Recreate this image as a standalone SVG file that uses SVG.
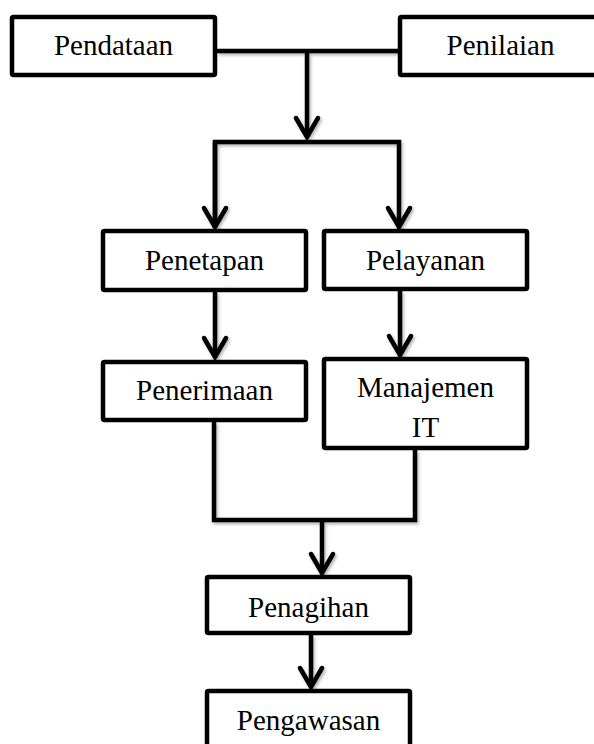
<svg xmlns="http://www.w3.org/2000/svg" width="594" height="744" viewBox="0 0 594 744">
  <defs>
    <style>
      .box { fill: #ffffff; stroke: #000000; stroke-width: 4.5; }
      .lbl { font-family: "Liberation Serif", "Times New Roman", serif; font-size: 29px; fill: #000000; text-anchor: middle; }
      .wire { fill: none; stroke: #000000; stroke-width: 4.5; stroke-linejoin: miter; }
    </style>
    <marker id="chev" markerUnits="userSpaceOnUse" markerWidth="30" markerHeight="30" refX="0" refY="0" orient="auto" overflow="visible">
      <path d="M -19,-11 L 0,0 L -19,11" fill="none" stroke="#000000" stroke-width="4.5" stroke-linejoin="miter" stroke-linecap="round"/>
    </marker>
    <filter id="soft" x="-10%" y="-10%" width="130%" height="130%">
      <feDropShadow dx="1.5" dy="2" stdDeviation="1.5" flood-color="#000000" flood-opacity="0.3"/>
    </filter>
  </defs>
  <rect width="594" height="744" fill="#ffffff"/>

  <!-- connectors -->
  <g id="connectors" filter="url(#soft)">
    <!-- join of the two sources -->
    <path class="wire" d="M 217,51 L 398,51"/>
    <path class="wire" d="M 307,51 L 307,137" marker-end="url(#chev)"/>
    <!-- split into two branches -->
    <path class="wire" d="M 215,228 L 215,142 L 399,142 L 399,227" marker-end="url(#chev)"/>
    <path class="wire" d="M 215,142 L 215,227" marker-end="url(#chev)"/>
    <!-- branch steps -->
    <path class="wire" d="M 215,292 L 215,357" marker-end="url(#chev)"/>
    <path class="wire" d="M 400,291 L 400,355" marker-end="url(#chev)"/>
    <!-- merge of the branches -->
    <path class="wire" d="M 214,422 L 214,520 L 415,520 L 415,450"/>
    <path class="wire" d="M 322,520 L 322,573" marker-end="url(#chev)"/>
    <path class="wire" d="M 311,635 L 311,687" marker-end="url(#chev)"/>
  </g>

  <g id="pendataan">
    <rect class="box" x="12" y="17" width="203" height="58" rx="1.5"/>
    <text class="lbl" x="113.5" y="55">Pendataan</text>
  </g>
  <g id="penilaian">
    <rect class="box" x="400" y="17" width="203" height="58" rx="1.5"/>
    <text class="lbl" x="500.5" y="55">Penilaian</text>
  </g>
  <g id="penetapan">
    <rect class="box" x="103" y="231" width="203" height="59" rx="1.5"/>
    <text class="lbl" x="204.5" y="270">Penetapan</text>
  </g>
  <g id="pelayanan">
    <rect class="box" x="324" y="231" width="203" height="58" rx="1.5"/>
    <text class="lbl" x="425.5" y="270">Pelayanan</text>
  </g>
  <g id="penerimaan">
    <rect class="box" x="103" y="362" width="203" height="58" rx="1.5"/>
    <text class="lbl" x="204.5" y="400">Penerimaan</text>
  </g>
  <g id="manajemen-it">
    <rect class="box" x="324" y="359" width="203" height="89" rx="1.5"/>
    <text class="lbl" x="425.5" y="397">Manajemen</text>
    <text class="lbl" x="425.5" y="437">IT</text>
  </g>
  <g id="penagihan">
    <rect class="box" x="207" y="577" width="203" height="56" rx="1.5"/>
    <text class="lbl" x="308.5" y="617">Penagihan</text>
  </g>
  <g id="pengawasan">
    <rect class="box" x="207" y="691" width="203" height="70" rx="1.5"/>
    <text class="lbl" x="308.5" y="730">Pengawasan</text>
  </g>
</svg>
